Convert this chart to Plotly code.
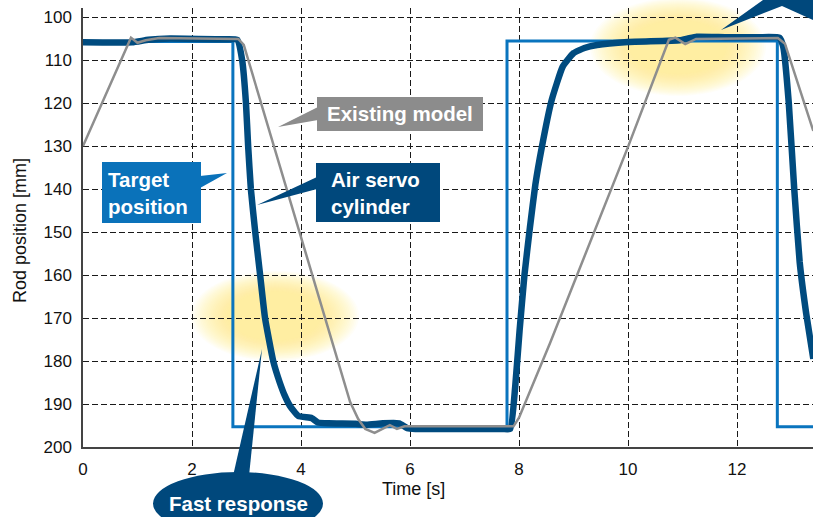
import plotly.graph_objects as go

# ---------------- data ----------------
target_t = [0, 2.75, 2.75, 7.78, 7.78, 12.74, 12.74, 13.4]
target_v = [105.7, 105.7, 195.3, 195.3, 105.6, 105.6, 195.3, 195.3]

servo_t = [0, 0.9, 1.2, 1.6, 2.5, 2.83, 2.92, 2.99, 3.03, 3.08, 3.16, 3.25, 3.34,
           3.49, 3.61, 3.7, 3.8, 3.95, 4.2, 4.31, 4.5, 5.0, 5.2, 5.5, 5.8, 5.95, 6.1,
           6.6, 7.2, 7.7, 7.84,
           7.93, 8.01, 8.1, 8.2, 8.3, 8.42, 8.6, 8.8, 9.0, 9.2, 9.43, 10.0,
           10.95, 11.1, 11.26, 11.8, 12.4, 12.78, 12.85, 12.95, 13.05, 13.15, 13.27, 13.4]
servo_v = [105.9, 105.9, 105.3, 105.0, 105.2, 105.3, 110, 120, 130, 140, 150, 160, 170,
           180, 185, 188, 190.5, 192.8, 193.3, 194.3, 194.5, 194.6, 194.8, 194.5, 194.5, 195.6, 195.8,
           195.8, 195.8, 195.8, 195.8,
           186, 173, 160, 149, 139, 130.2, 119.3, 111.6, 108.4, 107.2, 106.5, 105.8,
           105.4, 105.0, 104.6, 104.7, 104.7, 104.8, 107, 120, 140, 157, 169, 179.5]

model_t = [0, 0.88, 1.0, 1.15, 1.4, 2.85, 2.95, 4.9, 5.05, 5.18, 5.35, 5.5, 5.63,
           5.76, 5.9, 7.9, 8.0, 8.57, 9.25, 10.0, 10.75, 10.87, 11.05, 11.25, 12.75,
           12.88, 13.4]
model_v = [130, 104.8, 106.0, 105.4, 104.9, 105.1, 106.5, 189.5, 193.5, 195.8, 196.7, 195.8, 194.9,
           195.8, 195.2, 195.2, 193.2, 175.8, 154.2, 130.2, 105.3, 104.8, 106.3, 105.1, 104.9,
           106.2, 126.5]

x_ticks = [0, 2, 4, 6, 8, 10, 12]
y_ticks = [100, 110, 120, 130, 140, 150, 160, 170, 180, 190, 200]

TARGET = '#0A74BE'
NAVY = '#004B7F'
GRAY = '#8E8E8E'
FONT = 'Liberation Sans'

W, H = 813, 517
L, R, T, B = 83, 0, 8, 70
PW, PH = W - L - R, H - T - B


def px(x):
    return (x - L) / PW


def py(y):
    return (H - B - y) / PH


fig = go.Figure()
fig.add_trace(go.Scatter(x=target_t, y=target_v, mode='lines',
                         line=dict(color=TARGET, width=3), name='Target position'))
fig.add_trace(go.Scatter(x=servo_t, y=servo_v, mode='lines',
                         line=dict(color=NAVY, width=6.5, shape='spline', smoothing=0.4),
                         name='Air servo cylinder'))
fig.add_trace(go.Scatter(x=model_t, y=model_v, mode='lines',
                         line=dict(color=GRAY, width=2.5), name='Existing model'))

shapes = []
# soft yellow glows
for cx, cy, rx, ry in [(275, 316, 84, 45), (678, 47, 88, 49)]:
    n = 22
    for i in range(n):
        s = 1.0 - 0.45 * i / (n - 1)
        shapes.append(dict(type='circle', xref='paper', yref='paper',
                           x0=px(cx - rx * s), x1=px(cx + rx * s),
                           y0=py(cy + ry * s), y1=py(cy - ry * s),
                           fillcolor='rgba(255,236,128,0.06)', line=dict(width=0),
                           layer='below'))


def poly(points, color):
    d = 'M ' + ' L '.join(f'{px(a):.5f},{py(b):.5f}' for a, b in points) + ' Z'
    return dict(type='path', xref='paper', yref='paper', path=d,
                fillcolor=color, line=dict(width=0), layer='above')


def rect(x0, y0, x1, y1, color):
    return dict(type='rect', xref='paper', yref='paper', x0=px(x0), x1=px(x1),
                y0=py(y1), y1=py(y0), fillcolor=color, line=dict(width=0), layer='above')


BLUEBOX = '#0A72BA'
NAVYBOX = '#00487C'
GRAYBOX = '#8C8C8C'

shapes += [
    rect(102, 162, 201, 223, BLUEBOX),
    poly([(200, 176), (227, 173), (200, 188)], BLUEBOX),
    rect(316, 163, 440, 222, NAVYBOX),
    poly([(317, 177), (257, 205), (317, 189)], NAVYBOX),
    rect(317, 97, 483, 131, GRAYBOX),
    poly([(318, 107), (278, 127), (318, 120)], GRAYBOX),
    dict(type='circle', xref='paper', yref='paper', x0=px(153), x1=px(323),
         y0=py(535), y1=py(472), fillcolor=NAVYBOX, line=dict(width=0), layer='above'),
    poly([(233, 476), (262, 349), (249, 476)], NAVYBOX),
    poly([(721, 30), (763, 0), (813, 0), (813, 20), (782, 6)], NAVYBOX),
]

annotations = [
    dict(text='<b>Target<br>position</b>', x=px(106), y=py(192.5), xanchor='left', yanchor='middle'),
    dict(text='<b>Air servo<br>cylinder</b>', x=px(329), y=py(192.5), xanchor='left', yanchor='middle'),
    dict(text='<b>Existing model</b>', x=px(400), y=py(114), xanchor='center', yanchor='middle'),
    dict(text='<b>Fast response</b>', x=px(238), y=py(503), xanchor='center', yanchor='middle'),
]
for a in annotations:
    a.update(xref='paper', yref='paper', showarrow=False, align='left',
             font=dict(family=FONT, size=20.5, color='white'))

annotations += [
    dict(text='Time [s]', x=px(413), y=py(489), xref='paper', yref='paper',
         showarrow=False, xanchor='center', yanchor='middle',
         font=dict(family=FONT, size=18, color='#111')),
    dict(text='Rod position [mm]', x=px(20), y=py(230), xref='paper', yref='paper',
         showarrow=False, xanchor='center', yanchor='middle', textangle=-90,
         font=dict(family=FONT, size=18, color='#111')),
]

fig.update_layout(
    width=W, height=H,
    margin=dict(l=L, r=R, t=T, b=B),
    paper_bgcolor='white', plot_bgcolor='rgba(0,0,0,0)',
    showlegend=False,
    shapes=shapes, annotations=annotations,
    font=dict(family=FONT, size=17, color='#111'),
)
fig.update_xaxes(range=[0, PW / 54.5], tickvals=x_ticks, ticktext=[str(v) for v in x_ticks],
                 showgrid=True, gridcolor='#1a1a1a', gridwidth=1, griddash='6px,3px',
                 zeroline=False, showline=True, linecolor='#444', linewidth=1.5,
                 ticks='', ticklabelstandoff=6, tickfont=dict(size=17, family=FONT))
fig.update_yaxes(range=[200, 100 - 9 / 4.3], tickvals=y_ticks, ticktext=[str(v) for v in y_ticks],
                 showgrid=True, gridcolor='#1a1a1a', gridwidth=1, griddash='6px,3px',
                 zeroline=False, showline=True, linecolor='#444', linewidth=1.5,
                 ticks='', ticklabelstandoff=6, tickfont=dict(size=17, family=FONT))

fig.write_html('out.html', config={'displayModeBar': False},
               post_script="document.body.style.margin='0';document.body.style.overflow='hidden';")
